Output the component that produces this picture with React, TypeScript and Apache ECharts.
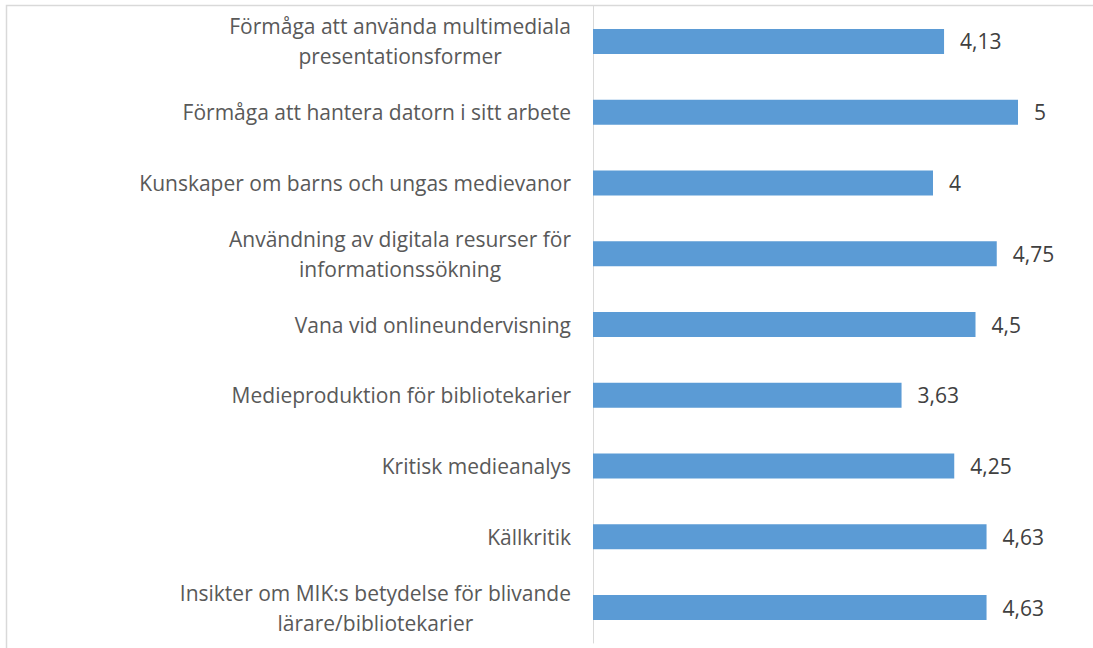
import React, { useEffect, useRef } from "react";
import * as echarts from "echarts";

const categories = [
  "Förmåga att använda multimediala\npresentationsformer",
  "Förmåga att hantera datorn i sitt arbete",
  "Kunskaper om barns och ungas medievanor",
  "Användning av digitala resurser för\ninformationssökning",
  "Vana vid onlineundervisning",
  "Medieproduktion för bibliotekarier",
  "Kritisk medieanalys",
  "Källkritik",
  "Insikter om MIK:s betydelse för blivande\nlärare/bibliotekarier",
];
const values = [4.13, 5, 4, 4.75, 4.5, 3.63, 4.25, 4.63, 4.63];

const FONT = "'Open Sans', sans-serif";

export default function App() {
  const ref = useRef<HTMLDivElement>(null);
  useEffect(() => {
    document.body.style.margin = "0";
    const chart = echarts.init(ref.current!, null, { renderer: "svg" });
    chart.setOption({
      animation: false,
      backgroundColor: "#ffffff",
      graphic: [
        {
          type: "rect",
          shape: { x: 6.5, y: 5.5, width: 1300, height: 1000 },
          style: { fill: "none", stroke: "#d9d9d9", lineWidth: 1.5 },
          silent: true,
          z: -1,
        },
      ],
      grid: { left: 593, right: 32.5, top: 6, bottom: 5, containLabel: false },
      xAxis: {
        type: "value",
        min: 0,
        max: 5.5,
        show: false,
        splitLine: { show: false },
      },
      yAxis: {
        type: "category",
        data: categories,
        inverse: true,
        axisLine: { show: true, lineStyle: { color: "#d9d9d9", width: 1 } },
        axisTick: { show: false },
        axisLabel: {
          margin: 22,
          color: "#595959",
          fontSize: 21,
          fontFamily: FONT,
          lineHeight: 30,
          align: "right",
          formatter: (v: string) =>
            v
              .split("\n")
              .map((s) => "{c|" + s + "}")
              .join("\n"),
          rich: {
            c: {
              align: "center",
              color: "#595959",
              fontSize: 21,
              fontFamily: FONT,
              lineHeight: 30,
            },
          },
        },
      },
      series: [
        {
          type: "bar",
          data: values,
          barWidth: 25,
          itemStyle: { color: "#5b9bd5" },
          label: {
            show: true,
            position: "right",
            distance: 16,
            color: "#404040",
            fontSize: 21,
            fontFamily: FONT,
            formatter: (p: any) => String(p.value).replace(".", ","),
          },
        },
      ],
    });
    return () => chart.dispose();
  }, []);
  return <div ref={ref} style={{ width: 1093, height: 648 }} />;
}
